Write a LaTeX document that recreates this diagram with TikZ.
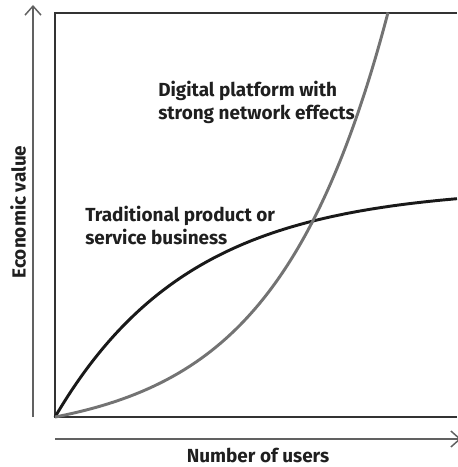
\documentclass[tikz,border=0pt]{standalone}
\usepackage{fontspec}
\setmainfont{Fira Sans}
\usetikzlibrary{arrows.meta}

\begin{document}
\begin{tikzpicture}[x=0.75pt, y=-0.75pt,
  frame/.style={draw=black!80, line width=1pt},
  axis/.style={draw=black!62, line width=1.3pt, -{Straight Barb[length=6.75pt, width=12pt, line width=1.1pt]}},
  lbl/.style={text=black!88, font=\bfseries\fontsize{14.2}{16.8}\selectfont, inner sep=0pt, align=left},
  trad/.style={draw=black!90, line width=2.2pt},
  plat/.style={draw=black!55, line width=2.2pt}]
  \useasboundingbox (0,0) rectangle (457,467);

  % corners of the plot area
  \coordinate (o)  at (55,417);
  \coordinate (tl) at (55,13);
  \coordinate (tr) at (457,13);
  \coordinate (br) at (457,417);

  \draw[frame] (br) -- (o) -- (tl) -- (tr);

  % axes
  \coordinate (ybot) at (33,417);
  \coordinate (ytop) at (33,5);
  \coordinate (xleft)  at (55,439);
  \coordinate (xright) at (461,439);
  \draw[axis] (ybot) -- (ytop);
  \draw[axis] (xleft) -- (xright);

  % curves
  \draw[trad] plot[domain=0:402, samples=120, smooth] ({55+\x},{417-230*(1-exp(-\x/135))});
  \draw[plat] plot[domain=0:333, samples=120, smooth] ({55+\x},{417-21.8*(exp(\x/112)-1)});

  % labels
  \node[lbl, anchor=north west] (platlbl) at (158,81) {Digital platform with\\strong network effects};
  \node[lbl, anchor=north west] (tradlbl) at (85,206) {Traditional product or\\service business};
  \node[lbl] (xlbl) at (258,455) {Number of users};
  \node[lbl, rotate=90] (ylbl) at (18,212) {Economic value};
\end{tikzpicture}
\end{document}
